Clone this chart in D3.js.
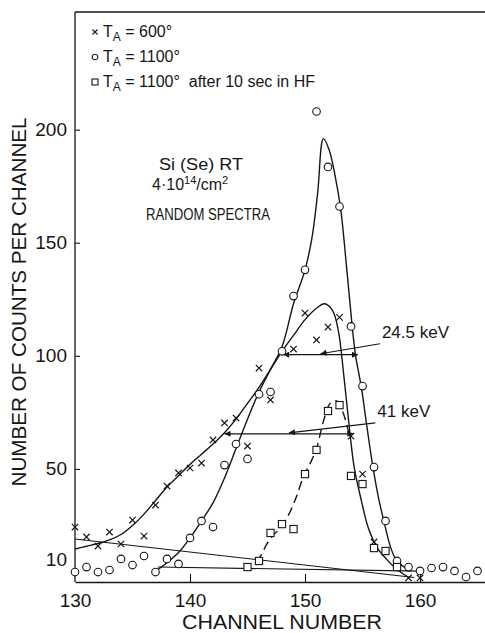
<!DOCTYPE html>
<html>
<head>
<meta charset="utf-8">
<script src="https://cdn.jsdelivr.net/npm/d3@7/dist/d3.min.js"></script>
<style>
    body { margin: 0; background: #fff; }
    svg text { font-family: "Liberation Sans", Arial, sans-serif; fill: #161616; }
</style>
</head>
<body>
<div id="chart"></div>
<script>

    const WIDTH = 485;
    const HEIGHT = 633;
    const INK = "#161616";

    // T_A = 600  (x markers)
    const ch600  = [130,131,132,133,134,135,136,137,138,139,140,141,142,143,144,145,146,147,149,150,151,152,153,154,155,156,159,160];
    const cnt600 = [24.3,19.9,15.9,22.1,16.8,27.4,20.3,34,42.4,48.2,50.4,52.6,62.8,70.3,72.5,60.1,94.6,80.5,103,118.9,107,112.7,117,64.5,47.7,17.7,1.8,1.8];

    // T_A = 1100  (circles)
    const ch1100  = [130,131,132,133,134,135,136,137,138,139,140,141,142,143,144,145,146,147,148,149,150,151,152,153,154,155,156,157,158,159,160,161,162,163,164,165];
    const cnt1100 = [4.4,6.6,4.4,5.3,10.2,7.5,11.5,4.4,10.2,8,19.5,27,24.3,51.7,61,54.4,83,84,102,126.4,138,208,183.5,166,113,86.6,50.8,27,9.3,6.6,4.9,6.2,6.6,4.9,2.2,4.9];

    // T_A = 1100 after 10 sec in HF  (squares)
    const chHF  = [145,146,147,148,149,150,151,152,153,154,155,156,157,158];
    const cntHF = [6.6,9.3,21.7,25.6,23.4,47.7,58.4,75.6,78.2,46.9,43.3,15,13.7,6.6];

    // hand-drawn fit curves
    const fit600C = [130,131,132,133,134,135,136,137,138,139,140,141,142,143,144,145,146,147,148,149,150,151,151.7,152.4,152.9,153.4,153.9,154.3,154.9,155.5,156.3,157.1,157.9,158.7];
    const fit600V = [14.6,15.8,17,18.6,21,25,30,36,42,47,52,56.5,61,66,72,79,86,94,102,109,116,121,123,120,111,90,66,50,36,24,15,10,6,3];

    const fit1100C = [137.2,138,139,140,141,142,143,144,145,146,147,148,149,150,150.6,151.1,151.6,152.1,152.6,153.1,153.6,154.1,154.4,154.9,155.4,155.9,156.4,156.9,157.4,157.9,158.5,159];
    const fit1100V = [5.5,8.5,13,19.5,27,35,46,59,72,84,94,104,123,138,152,172,196,191,180,165,140,113,100,86,68,51,37,26,16,10,7,5.5];

    const fitHFC = [145.8,146.2,146.7,147.3,147.9,148.6,149.2,149.9,150.5,151,151.6,152.2,152.8,153.3,153.8];
    const fitHFV = [9,12,17,21,24,30,37,47,53,59,71,79,80,75,66];

    // straight background lines
    const bg600C  = [130, 159.5];
    const bg600V  = [19, 2];
    const bg1100C = [137.2, 160];
    const bg1100V = [6.6, 4.8];

    // width arrows
    const fwhmLabel = ["24.5 keV", "41 keV"];
    const fwhmLevel = [100.5, 65.5];
    const fwhmFrom  = [148.1, 143.0];
    const fwhmTo    = [154.6, 154.2];

    const xTicks = [130, 140, 150, 160];
    const yTicks = [10, 50, 100, 150, 200];

    const svg = d3.select("#chart").append("svg")
        .attr("width", WIDTH)
        .attr("height", HEIGHT);

    svg.append("rect").attr("width", WIDTH).attr("height", HEIGHT).attr("fill", "#fff");

    const x = d3.scaleLinear().domain([130, 165.65]).range([75, 485]);
    const y = d3.scaleLinear().domain([0, 252]).range([582, 12]);

    const defs = svg.append("defs");
    defs.append("marker")
        .attr("id", "head")
        .attr("viewBox", "0 0 10 10")
        .attr("refX", 10).attr("refY", 5)
        .attr("markerWidth", 11).attr("markerHeight", 6)
        .attr("markerUnits", "userSpaceOnUse")
        .attr("orient", "auto-start-reverse")
        .append("path")
        .attr("d", "M0,0L10,5L0,10Z")
        .attr("fill", INK);

    // frame: top line
    svg.append("line")
        .attr("x1", x(130)).attr("x2", WIDTH)
        .attr("y1", y(252)).attr("y2", y(252))
        .attr("stroke", INK).attr("stroke-width", 1.3);

    // axes
    const xAxis = svg.append("g")
        .attr("transform", "translate(0," + y(0) + ")")
        .call(d3.axisBottom(x).tickValues(xTicks).tickSizeInner(-8).tickSizeOuter(0).tickPadding(12));
    const yAxis = svg.append("g")
        .attr("transform", "translate(" + x(130) + ",0)")
        .call(d3.axisLeft(y).tickValues(yTicks).tickSizeInner(-5).tickSizeOuter(0).tickPadding(8));

    [xAxis, yAxis].forEach(function(g) {
        g.select(".domain").attr("stroke", INK).attr("stroke-width", 1.3);
        g.selectAll(".tick line").attr("stroke", INK).attr("stroke-width", 1.1);
        g.selectAll(".tick text")
            .attr("font-family", "Liberation Sans, Arial, sans-serif")
            .attr("font-size", 19)
            .attr("fill", INK);
    });
    yAxis.select(".domain").attr("d", "M0," + y(252) + "V" + y(0));
    yAxis.selectAll(".tick").filter(function(d) { return d == 10; }).select("line").remove();
    xAxis.selectAll(".tick").filter(function(d) { return d == 130; }).select("line").remove();
    xAxis.selectAll(".tick text").attr("dy", "0.71em");

    // axis titles
    svg.append("text")
        .attr("x", 282).attr("y", 629)
        .attr("text-anchor", "middle")
        .attr("font-size", 21)
        .attr("textLength", 200).attr("lengthAdjust", "spacingAndGlyphs")
        .text("CHANNEL NUMBER");

    svg.append("text")
        .attr("transform", "translate(26,302) rotate(-90)")
        .attr("text-anchor", "middle")
        .attr("font-size", 21)
        .attr("textLength", 369).attr("lengthAdjust", "spacingAndGlyphs")
        .text("NUMBER OF COUNTS PER CHANNEL");

    // lines
    const line = d3.line()
        .x(function(d) { return x(d[0]); })
        .y(function(d) { return y(d[1]); });
    const curve = d3.line()
        .x(function(d) { return x(d[0]); })
        .y(function(d) { return y(d[1]); })
        .curve(d3.curveCatmullRom.alpha(0.5));

    function pairs(cs, vs) { return cs.map(function(c, i) { return [c, vs[i]]; }); }

    svg.append("path").attr("d", line(pairs(bg600C, bg600V)))
        .attr("fill", "none").attr("stroke", INK).attr("stroke-width", 1.1);
    svg.append("path").attr("d", line(pairs(bg1100C, bg1100V)))
        .attr("fill", "none").attr("stroke", INK).attr("stroke-width", 1.1);

    svg.append("path").attr("d", curve(pairs(fit600C, fit600V)))
        .attr("fill", "none").attr("stroke", INK).attr("stroke-width", 1.4);
    svg.append("path").attr("d", curve(pairs(fit1100C, fit1100V)))
        .attr("fill", "none").attr("stroke", INK).attr("stroke-width", 1.4);
    svg.append("path").attr("d", curve(pairs(fitHFC, fitHFV)))
        .attr("fill", "none").attr("stroke", INK).attr("stroke-width", 1.4)
        .attr("stroke-dasharray", "9,5");

    // width arrows and their labels
    fwhmLabel.forEach(function(lab, i) {
        const mid = (fwhmFrom[i] + fwhmTo[i]) / 2;
        svg.append("line")
            .attr("x1", x(fwhmFrom[i])).attr("x2", x(fwhmTo[i]))
            .attr("y1", y(fwhmLevel[i])).attr("y2", y(fwhmLevel[i]))
            .attr("stroke", INK).attr("stroke-width", 1.2)
            .attr("marker-start", "url(#head)")
            .attr("marker-end", "url(#head)");
        const lx = x(fwhmTo[i]) + 24;
        const ly = y(fwhmLevel[i]) - 17;
        svg.append("line")
            .attr("x1", lx - 2).attr("y1", ly + 6)
            .attr("x2", x(mid)).attr("y2", y(fwhmLevel[i]) - 1)
            .attr("stroke", INK).attr("stroke-width", 1.1)
            .attr("marker-end", "url(#head)");
        svg.append("text")
            .attr("x", lx).attr("y", ly)
            .attr("font-size", 17)
            .text(lab);
    });

    // markers
    svg.selectAll(".cross").data(pairs(ch600, cnt600)).enter().append("path")
        .attr("class", "cross")
        .attr("transform", function(d) { return "translate(" + x(d[0]) + "," + y(d[1]) + ")"; })
        .attr("d", "M-3.2,-3.2L3.2,3.2M-3.2,3.2L3.2,-3.2")
        .attr("stroke", INK).attr("stroke-width", 1.2);

    svg.selectAll(".circ").data(pairs(ch1100, cnt1100)).enter().append("circle")
        .attr("class", "circ")
        .attr("cx", function(d) { return x(d[0]); })
        .attr("cy", function(d) { return y(d[1]); })
        .attr("r", 3.8)
        .attr("fill", "#fff").attr("stroke", INK).attr("stroke-width", 1.1);

    svg.selectAll(".sq").data(pairs(chHF, cntHF)).enter().append("rect")
        .attr("class", "sq")
        .attr("x", function(d) { return x(d[0]) - 3.6; })
        .attr("y", function(d) { return y(d[1]) - 3.6; })
        .attr("width", 7.2).attr("height", 7.2)
        .attr("fill", "#fff").attr("stroke", INK).attr("stroke-width", 1.1);

    // legend
    const legendText = ["600°", "1100°", "1100°  after 10 sec in HF"];
    legendText.forEach(function(t, i) {
        const ly = 37 + i * 25;
        const mk = svg.append("g").attr("transform", "translate(95," + (ly - 5) + ")");
        if (i == 0) {
            mk.append("path").attr("d", "M-2.5,-2.5L2.5,2.5M-2.5,2.5L2.5,-2.5")
                .attr("stroke", INK).attr("stroke-width", 1.1);
        } else if (i == 1) {
            mk.append("circle").attr("r", 2.8).attr("fill", "#fff")
                .attr("stroke", INK).attr("stroke-width", 1.1);
        } else {
            mk.append("rect").attr("x", -3).attr("y", -3).attr("width", 6).attr("height", 6)
                .attr("fill", "#fff").attr("stroke", INK).attr("stroke-width", 1.1);
        }
        const tx = svg.append("text").attr("x", 103).attr("y", ly).attr("font-size", 16)
            .attr("xml:space", "preserve");
        tx.append("tspan").text("T");
        tx.append("tspan").attr("font-size", 12).attr("dy", 4).text("A");
        tx.append("tspan").attr("dy", -4).text(" = " + t);
    });

    // sample description
    svg.append("text").attr("x", 201).attr("y", 170).attr("text-anchor", "middle")
        .attr("font-size", 16).attr("textLength", 84).attr("lengthAdjust", "spacingAndGlyphs")
        .text("Si (Se) RT");
    const dose = svg.append("text").attr("x", 152).attr("y", 190).attr("font-size", 16);
    dose.append("tspan").text("4·10");
    dose.append("tspan").attr("font-size", 11).attr("dy", -6).text("14");
    dose.append("tspan").attr("dy", 6).text("/cm");
    dose.append("tspan").attr("font-size", 11).attr("dy", -6).text("2");
    svg.append("text").attr("x", 146).attr("y", 220)
        .attr("font-size", 16).attr("textLength", 124).attr("lengthAdjust", "spacingAndGlyphs")
        .text("RANDOM SPECTRA");

</script>
</body>
</html>
